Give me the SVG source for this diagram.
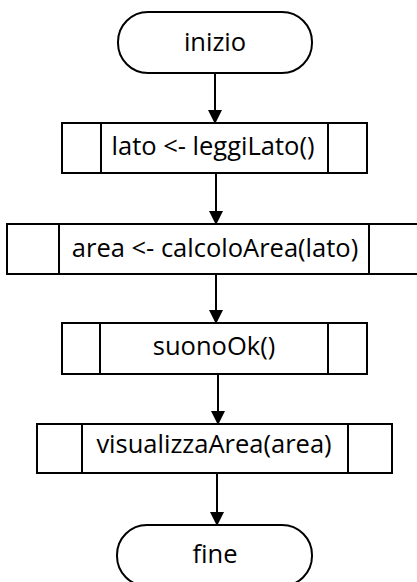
<svg xmlns="http://www.w3.org/2000/svg" width="417" height="582" viewBox="0 0 417 582">
<style>
.s{fill:#fff;stroke:#000;stroke-width:2}
.l{stroke:#000;stroke-width:2;fill:none}
.t{font-family:"Open Sans","Noto Sans","Liberation Sans",sans-serif;font-size:25.5px;text-anchor:middle;fill:#000}
.c{stroke:#000;stroke-width:2;fill:none;marker-end:url(#ah)}
</style>
<defs>
<marker id="ah" markerWidth="14" markerHeight="14" refX="13" refY="7" orient="auto" markerUnits="userSpaceOnUse">
<path d="M0,0 L14,7 L0,14 Z" fill="#000"/>
</marker>
</defs>
<rect width="417" height="582" fill="#fff"/>
<g id="connectors">
<line class="c" x1="215" y1="73" x2="215" y2="123"/>
<line class="c" x1="216" y1="173" x2="216" y2="224"/>
<line class="c" x1="216" y1="274" x2="216" y2="323"/>
<line class="c" x1="218" y1="374" x2="218" y2="424"/>
<line class="c" x1="217" y1="473" x2="217" y2="525"/>
</g>
<g id="start">
<rect class="s" x="118" y="12" width="194" height="61" rx="30" ry="30"/>
<text class="t" x="215" y="51">inizio</text>
</g>
<g id="leggiLato">
<rect class="s" x="62" y="123" width="305" height="50"/>
<line class="l" x1="101" y1="123" x2="101" y2="173"/>
<line class="l" x1="328" y1="123" x2="328" y2="173"/>
<text class="t" x="213" y="155">lato &lt;- leggiLato()</text>
</g>
<g id="calcoloArea">
<rect class="s" x="7" y="224" width="420" height="50"/>
<line class="l" x1="59" y1="224" x2="59" y2="274"/>
<line class="l" x1="369" y1="224" x2="369" y2="274"/>
<text class="t" x="215" y="257">area &lt;- calcoloArea(lato)</text>
</g>
<g id="suonoOk">
<rect class="s" x="62" y="323" width="305" height="51"/>
<line class="l" x1="100" y1="323" x2="100" y2="374"/>
<line class="l" x1="328" y1="323" x2="328" y2="374"/>
<text class="t" x="214" y="355">suonoOk()</text>
</g>
<g id="visualizzaArea">
<rect class="s" x="37" y="424" width="355" height="49"/>
<line class="l" x1="82" y1="424" x2="82" y2="473"/>
<line class="l" x1="348" y1="424" x2="348" y2="473"/>
<text class="t" x="214" y="453">visualizzaArea(area)</text>
</g>
<g id="end">
<rect class="s" x="117" y="525" width="195" height="61" rx="30" ry="30"/>
<text class="t" x="215" y="563">fine</text>
</g>
</svg>
